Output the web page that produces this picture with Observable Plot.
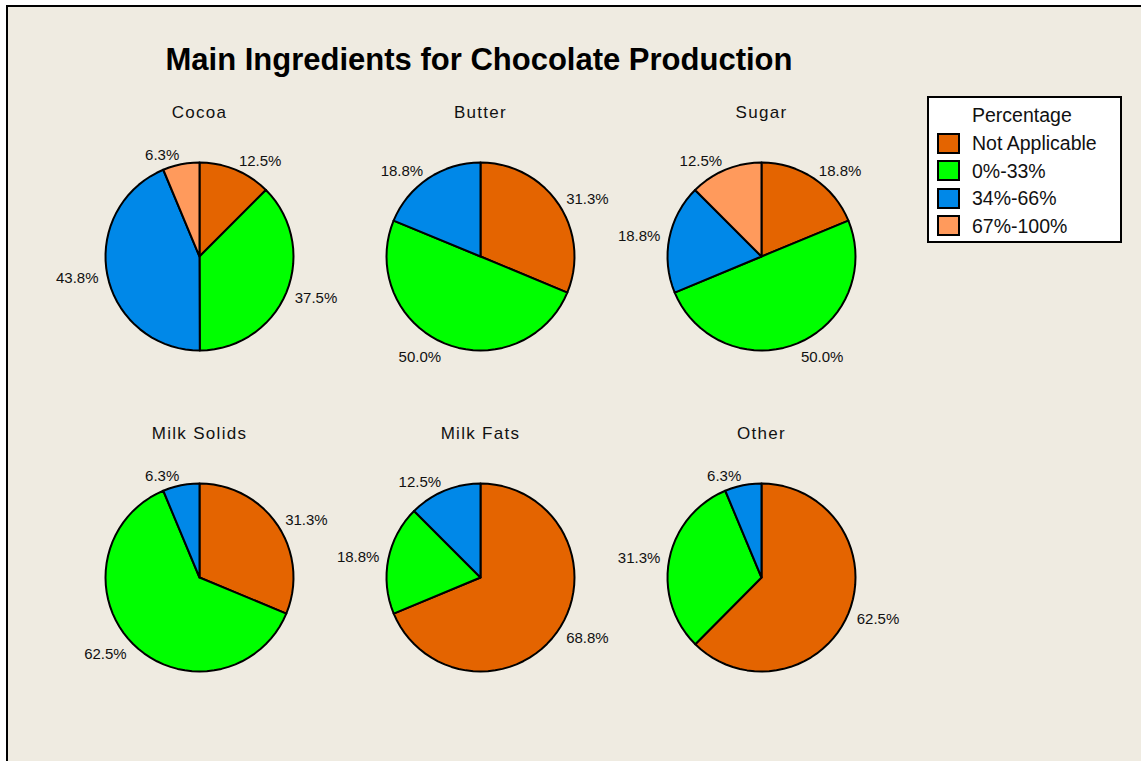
<!DOCTYPE html>
<html>
<head>
<meta charset="utf-8">
<script src="https://cdn.jsdelivr.net/npm/d3@7"></script>
<script src="https://cdn.jsdelivr.net/npm/@observablehq/plot@0.6"></script>
<style>
  html, body { margin: 0; padding: 0; background: #fff; overflow: hidden; }
  #wrap { position: relative; width: 1141px; height: 761px; overflow: hidden; }
  #frame { position: absolute; left: 6px; top: 5px; width: 1200px; height: 800px; background: #efebe1;
           border-left: 2px solid #000; border-top: 2px solid #000; }
  #title { position: absolute; left: 0; width: 958px; top: 44px; text-align: center;
           font: bold 31px "Liberation Sans", Arial, sans-serif; line-height: 31px; color: #000; margin: 0; }
  #chart { position: absolute; left: 0; top: 0; }
  #legend { position: absolute; left: 927px; top: 96px; width: 191px; height: 143px; background: #fff;
            border: 2px solid #000; font: 19.5px "Liberation Sans", Arial, sans-serif; color: #111; }
  #legend .lt { position: absolute; left: 43px; line-height: 22px; white-space: nowrap; }
  #legend .sw { position: absolute; left: 8px; width: 19px; height: 17px; border: 2px solid #000; }
</style>
</head>
<body>
<div id="wrap">
  <div id="frame"></div>
  <div id="chart"></div>
  <h1 id="title">Main Ingredients for Chocolate Production</h1>
  <div id="legend"></div>
</div>
<script>
// ---- data ----
const pies = ["Cocoa", "Butter", "Sugar", "Milk Solids", "Milk Fats", "Other"];
const categories = ["Not Applicable", "0%-33%", "34%-66%", "67%-100%"];
const colors = ["#e46400", "#00ff00", "#0088e8", "#ff9a5c"];
const notApplicable = [12.5, 31.3, 18.8, 31.3, 68.8, 62.5];
const pct0to33 = [37.5, 50.0, 50.0, 62.5, 18.8, 31.3];
const pct34to66 = [43.8, 18.8, 18.8, 6.3, 12.5, 6.3];
const pct67to100 = [6.3, 0, 12.5, 0, 0, 0];
const legendTitle = "Percentage";

// ---- layout ----
const W = 1141, H = 761;
const mL = 44.45, mR = 225.45, mT = 79.45, mB = 7.45;
const pad = 0.1;
const R = 94; // pie radius in px
const stepX = (W - mL - mR) / (3 + pad), bwX = stepX * (1 - pad);
const stepY = (H - mT - mB) / (2 + pad), bwY = stepY * (1 - pad);
const xh = bwX / 2 / R, yh = bwY / 2 / R;

const series = [notApplicable, pct0to33, pct34to66, pct67to100];
const verts = [];
const labels = [];
const labelR = 103 / R, shiftY = 6 / R;
pies.forEach((name, i) => {
  const vals = series.map(s => s[i]);
  const total = d3.sum(vals);
  const fx = i % 3, fy = Math.floor(i / 3);
  let acc = 0;
  vals.forEach((v, k) => {
    if (!v) return;
    const a0 = acc / total * 2 * Math.PI;
    acc += v;
    const a1 = acc / total * 2 * Math.PI;
    const id = name + "-" + k;
    verts.push({id, cat: categories[k], fx, fy, x: 0, y: 0});
    const n = Math.max(1, Math.ceil((a1 - a0) / (Math.PI / 40)));
    for (let j = 0; j <= n; j++) {
      const a = a0 + (a1 - a0) * j / n;
      verts.push({id, cat: categories[k], fx, fy, x: Math.sin(a), y: Math.cos(a)});
    }
    const m = (a0 + a1) / 2;
    labels.push({
      fx, fy,
      x: Math.sin(m) * labelR,
      y: Math.cos(m) * labelR - Math.max(0, -Math.cos(m)) * shiftY,
      text: v.toFixed(1) + "%",
      right: Math.sin(m) >= 0
    });
  });
});
const titles = pies.map((name, i) => ({name, fx: i % 3, fy: Math.floor(i / 3)}));

const labelFont = {fontFamily: '"Liberation Sans Narrow", "Liberation Sans", sans-serif', fontSize: 15, fill: "#111"};

const plot = Plot.plot({
  width: W, height: H,
  marginLeft: mL, marginRight: mR, marginTop: mT, marginBottom: mB,
  style: {background: "transparent", fontFamily: '"Liberation Sans", Arial, sans-serif'},
  fx: {domain: [0, 1, 2], paddingInner: pad, paddingOuter: pad, round: false, axis: null},
  fy: {domain: [0, 1], paddingInner: pad, paddingOuter: pad, round: false, axis: null},
  x: {domain: [-xh, xh], axis: null},
  y: {domain: [-yh, yh], axis: null},
  color: {domain: categories, range: colors},
  marks: [
    Plot.line(verts, {x: "x", y: "y", z: "id", fill: "cat", fx: "fx", fy: "fy",
      stroke: "#000", strokeWidth: 2, strokeLinejoin: "round", curve: "linear-closed"}),
    Plot.text(labels.filter(d => d.right), {x: "x", y: "y", text: "text", fx: "fx", fy: "fy",
      textAnchor: "start", ...labelFont}),
    Plot.text(labels.filter(d => !d.right), {x: "x", y: "y", text: "text", fx: "fx", fy: "fy",
      textAnchor: "end", ...labelFont}),
    Plot.text(titles, {text: "name", fx: "fx", fy: "fy", frameAnchor: "top", lineAnchor: "middle",
      fontSize: 17, fill: "#111"})
  ]
});
d3.select(plot).selectAll("text").filter(function() { return pies.includes(this.textContent); })
  .style("letter-spacing", "1.3px");
document.getElementById("chart").appendChild(plot);

// ---- legend ----
const legend = document.getElementById("legend");
const lt = document.createElement("div");
lt.className = "lt"; lt.textContent = legendTitle; lt.style.top = (17 - 11) + "px";
legend.appendChild(lt);
categories.forEach((c, k) => {
  const cy = 45 + k * 27.6;
  const sw = document.createElement("div");
  sw.className = "sw"; sw.style.background = colors[k]; sw.style.top = (cy - 10.5) + "px";
  legend.appendChild(sw);
  const t = document.createElement("div");
  t.className = "lt"; t.textContent = c; t.style.top = (cy - 11) + "px";
  legend.appendChild(t);
});
</script>
</body>
</html>
